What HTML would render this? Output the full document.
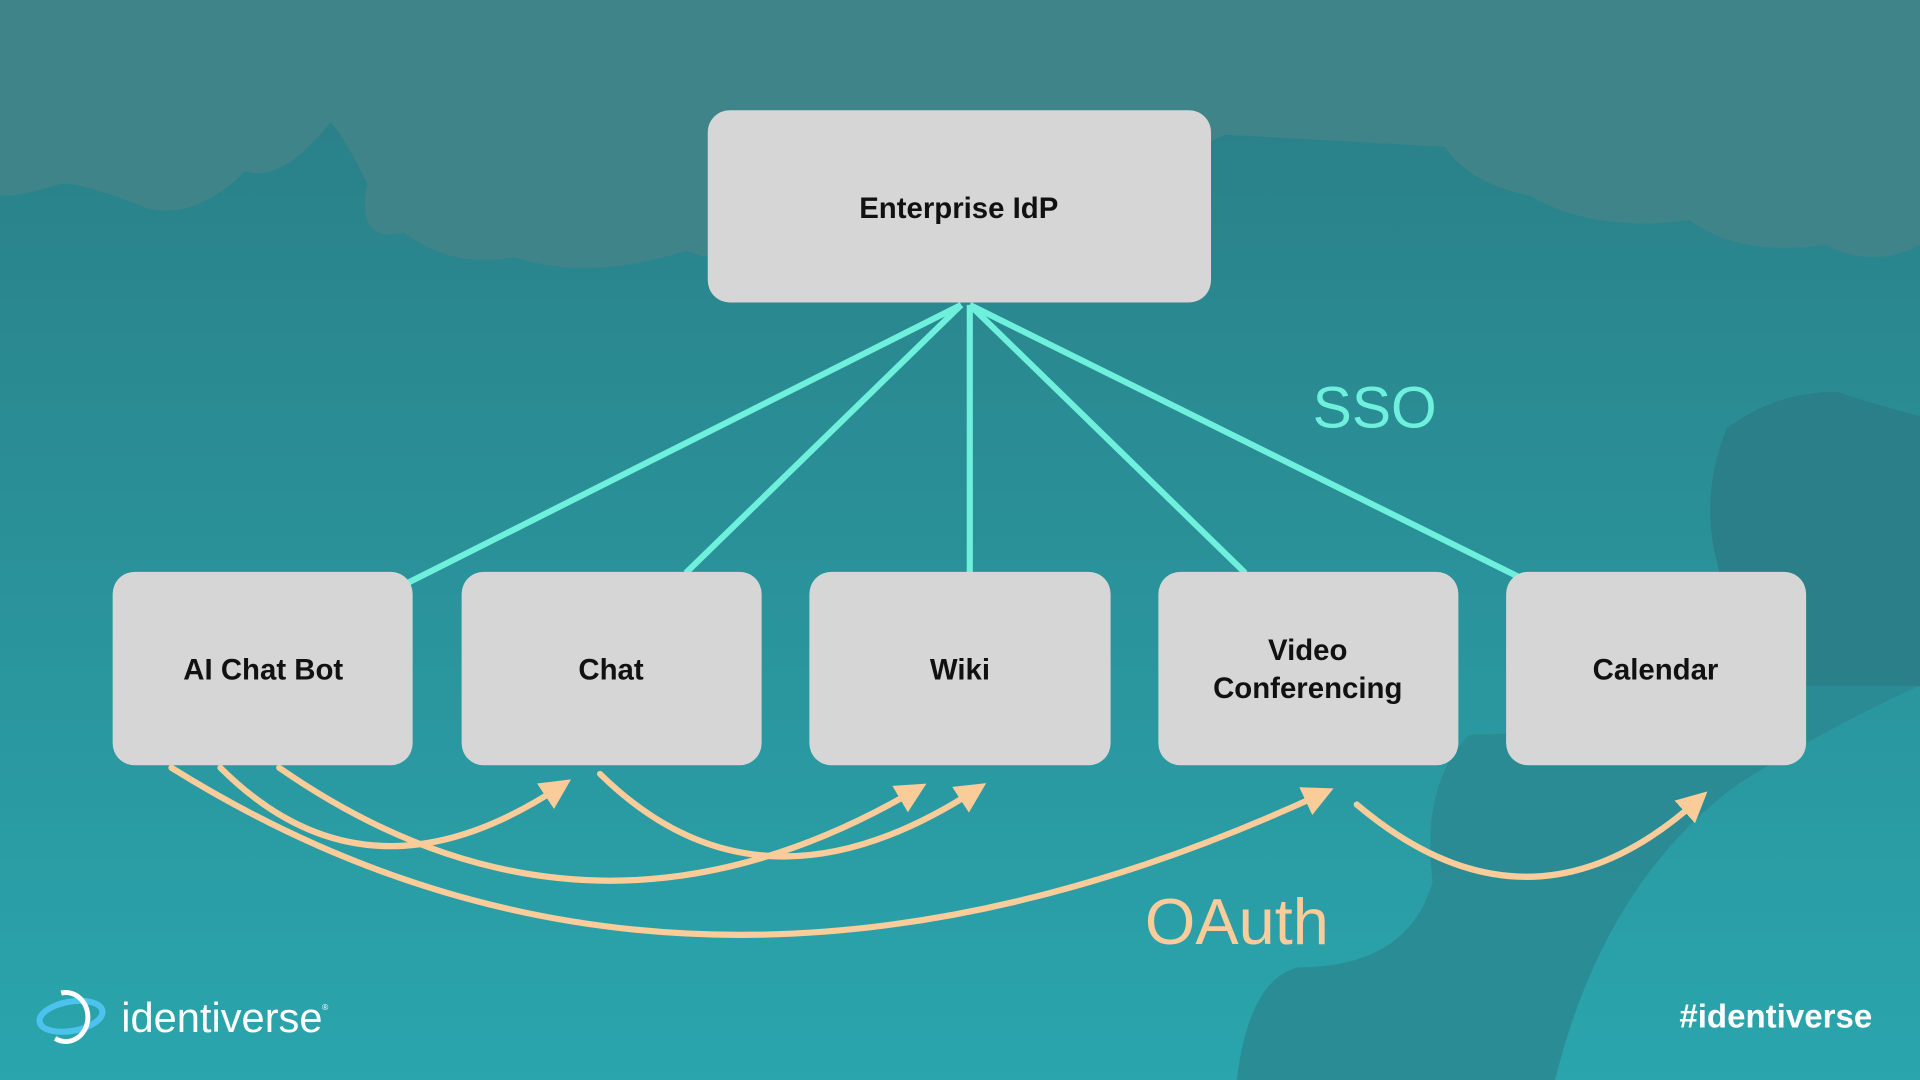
<!DOCTYPE html>
<html><head><meta charset="utf-8"><style>
html,body{margin:0;padding:0;width:1920px;height:1080px;overflow:hidden;background:#2a8a92}
svg{display:block}
</style></head><body>
<svg width="1920" height="1080" viewBox="0 0 1568 882" xmlns="http://www.w3.org/2000/svg">
<defs>
<linearGradient id="bg" x1="0" y1="0" x2="0" y2="1">
<stop offset="0" stop-color="#2a7c84"/><stop offset="1" stop-color="#2aa5ad"/></linearGradient>
<marker id="ah" viewBox="0 0 10 10" refX="6" refY="5" markerWidth="5" markerHeight="5" orient="auto" markerUnits="strokeWidth">
<path d="M0,0 L10,5 L0,10 z" fill="#f9cc9a"/></marker>
</defs>
<rect width="1568" height="882" fill="url(#bg)"/>
<path d="M0,0 H1568 V200 Q1530,220 1490,200 Q1420,210 1380,180 Q1300,190 1250,160 Q1200,150 1180,120 L1000,110 L960,130 Q900,170 820,150 Q760,200 700,190 Q640,230 560,205 Q480,230 420,210 Q370,220 330,190 Q290,200 300,150 Q280,110 270,100 Q230,150 200,140 Q160,180 120,170 Q70,150 50,150 Q20,160 0,160 Z" fill="#3e8489"/>
<path d="M1568,340 Q1530,330 1500,320 Q1450,320 1410,350 Q1390,400 1400,450 Q1420,520 1380,560 Q1300,600 1200,600 Q1160,640 1170,720 Q1150,790 1060,790 Q1020,800 1010,882 L1270,882 Q1310,720 1420,640 Q1500,590 1568,560 Z" fill="#2a8a92" opacity="0.9"/>
<path d="M1568,340 Q1530,330 1500,320 Q1450,320 1410,350 Q1390,400 1400,450 Q1420,520 1380,560 L1568,560 Z" fill="#2b7f88"/>
<g stroke="#6ef0dc" stroke-width="5" fill="none">
<line x1="785" y1="249" x2="333" y2="476"/>
<line x1="785" y1="249" x2="560" y2="468"/>
<line x1="792" y1="249" x2="792" y2="468"/>
<line x1="792" y1="249" x2="1017" y2="468"/>
<line x1="792" y1="249" x2="1240" y2="471"/>
</g>
<g fill="#d6d6d6">
<rect x="578" y="90" width="411" height="157" rx="18"/>
<rect x="92" y="467" width="245" height="158" rx="18"/>
<rect x="377" y="467" width="245" height="158" rx="18"/>
<rect x="661" y="467" width="246" height="158" rx="18"/>
<rect x="946" y="467" width="245" height="158" rx="18"/>
<rect x="1230" y="467" width="245" height="158" rx="18"/>
</g>
<g font-family="Liberation Sans, sans-serif" font-size="24" fill="#111" text-anchor="middle" font-weight="bold">
<text x="783" y="178">Enterprise IdP</text>
<text x="215" y="555">AI Chat Bot</text>
<text x="499" y="555">Chat</text>
<text x="784" y="555">Wiki</text>
<text x="1068" y="539">Video</text>
<text x="1068" y="570">Conferencing</text>
<text x="1352" y="555">Calendar</text>
</g>
<g stroke="#f9cc9a" stroke-width="5" fill="none" marker-end="url(#ah)" stroke-linecap="round">
<path d="M180,627 Q300,747 458,642"/>
<path d="M228,627 Q480,802 748,645"/>
<path d="M140,627 Q560,889 1080,648"/>
<path d="M490,632 Q620,760 797,645"/>
<path d="M1108,657 Q1250,777 1387,653"/>
</g>
<text x="1072" y="349" font-family="Liberation Sans, sans-serif" font-size="48" fill="#6ef0dc">SSO</text>
<text x="935" y="771" font-family="Liberation Sans, sans-serif" font-size="53" fill="#f9cc9a">OAuth</text>
<g>
<ellipse cx="58" cy="830" rx="26" ry="12" fill="none" stroke="#4cc3ef" stroke-width="5" transform="rotate(-10 58 830)"/>
<path d="M50,811 A18,20 0 1 1 45,848" fill="none" stroke="#fff" stroke-width="4"/>
</g>
<text x="99" y="843" font-family="Liberation Sans, sans-serif" font-size="34" fill="#fff">identiverse</text>
<text x="263" y="825" font-family="Liberation Sans, sans-serif" font-size="7" fill="#fff">®</text>
<text x="1529" y="839" text-anchor="end" font-family="Liberation Sans, sans-serif" font-size="27" font-weight="bold" fill="#fff">#identiverse</text>
</svg>
</body></html>
